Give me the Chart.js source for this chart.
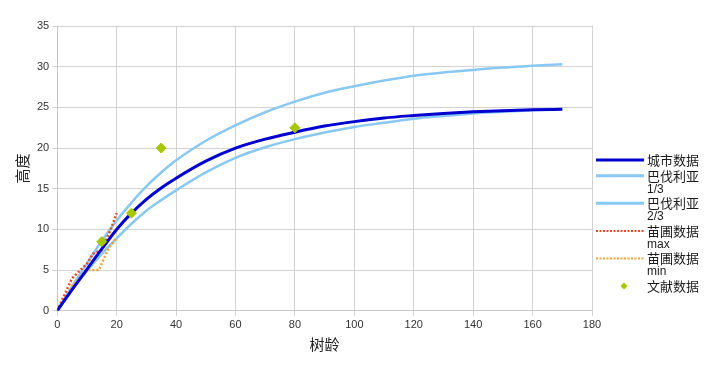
<!DOCTYPE html>
<html>
<head>
<meta charset="utf-8">
<script src="https://cdn.jsdelivr.net/npm/chart.js@4/dist/chart.umd.min.js"></script>
<style>
  html, body { margin: 0; padding: 0; background: #ffffff; }
  #wrap { position: relative; width: 718px; height: 376px; }
</style>
</head>
<body>
<div id="wrap"><canvas id="c" width="718" height="376"></canvas></div>
<script>
// ---- Data ----
const curveAges = [0, 5, 10, 15, 20, 25, 30, 35, 40, 50, 60, 70, 80, 90, 100, 110, 120, 130, 140, 150, 160, 170];
const cityHeights = [0, 2.6, 5.1, 7.6, 10.0, 12.0, 13.7, 15.1, 16.3, 18.4, 20.0, 21.1, 21.95, 22.7, 23.25, 23.7, 24.0, 24.25, 24.45, 24.6, 24.7, 24.76];
const bavaria13Heights = [0, 3.0, 5.8, 8.6, 11.1, 13.3, 15.3, 17.0, 18.5, 20.9, 22.8, 24.4, 25.7, 26.8, 27.6, 28.3, 28.9, 29.3, 29.6, 29.9, 30.1, 30.3];
const bavaria23Heights = [0, 2.6, 4.9, 7.0, 8.9, 10.7, 12.3, 13.6, 14.8, 17.0, 18.8, 20.1, 21.1, 21.9, 22.6, 23.1, 23.6, 23.95, 24.25, 24.45, 24.65, 24.76];
const nurseryMaxAges = [0, 5, 10, 12, 15, 18, 20];
const nurseryMaxHeights = [0, 4.0, 5.8, 7.0, 7.5, 10.0, 12.0];
const nurseryMinAges = [0, 5, 8, 10, 14, 17, 20];
const nurseryMinHeights = [0, 3.0, 4.3, 5.0, 5.0, 7.5, 9.0];
const literatureAges = [15, 25, 35, 80];
const literatureHeights = [8.5, 12, 20, 22.5];
const seriesNames = ['城市数据', '巴伐利亚 1/3', '巴伐利亚 2/3', '苗圃数据 max', '苗圃数据 min', '文献数据'];
const legendLines = [['城市数据'], ['巴伐利亚', '1/3'], ['巴伐利亚', '2/3'], ['苗圃数据', 'max'], ['苗圃数据', 'min'], ['文献数据']];
const xTicks = [0, 20, 40, 60, 80, 100, 120, 140, 160, 180];
const yTicks = [0, 5, 10, 15, 20, 25, 30, 35];
const xTitle = '树龄';
const yTitle = '高度';

const pts = (xs, ys) => xs.map((x, i) => ({ x: x, y: ys[i] }));

const COLORS = ['#0000d0', '#88c8f2', '#88c8f2', '#e84a26', '#f6a234', '#a6c600'];
const CJK = '"Noto Sans CJK SC", "Noto Sans", sans-serif';
const LAT = '"Liberation Sans", Arial, sans-serif';

const legendPlugin = {
  id: 'sideLegend',
  afterDraw(chart) {
    const ctx = chart.ctx;
    const ca = chart.chartArea;
    const x0 = ca.right + 4, x1 = ca.right + 52, tx = ca.right + 55;
    let y = 160;
    ctx.save();
    chart.data.datasets.forEach((ds, i) => {
      const lines = legendLines[i];
      if (ds.showLine === false) {
        ctx.fillStyle = COLORS[i];
        ctx.beginPath();
        const cx = (x0 + x1) / 2 + 4, r = 3.5;
        ctx.moveTo(cx - r, y); ctx.lineTo(cx, y - r); ctx.lineTo(cx + r, y); ctx.lineTo(cx, y + r);
        ctx.closePath(); ctx.fill();
      } else {
        ctx.strokeStyle = COLORS[i];
        ctx.lineWidth = i < 3 ? 3 : 2;
        ctx.setLineDash(i >= 3 ? [2, 1.5] : []);
        ctx.beginPath(); ctx.moveTo(x0, y); ctx.lineTo(x1, y); ctx.stroke();
        ctx.setLineDash([]);
      }
      ctx.fillStyle = '#1a1a1a';
      ctx.textBaseline = 'middle';
      ctx.textAlign = 'left';
      ctx.font = '13px ' + CJK;
      ctx.fillText(lines[0], tx, y);
      if (lines[1]) {
        ctx.font = '12px ' + LAT;
        ctx.fillText(lines[1], tx, y + 13.6);
        y += 27.6;
      } else {
        y += 15.7;
      }
    });
    ctx.restore();
  }
};

new Chart(document.getElementById('c'), {
  type: 'scatter',
  data: {
    datasets: [
      { label: seriesNames[0], data: pts(curveAges, cityHeights), showLine: true, borderColor: COLORS[0], borderWidth: 3, pointRadius: 0, cubicInterpolationMode: 'monotone', order: 1 },
      { label: seriesNames[1], data: pts(curveAges, bavaria13Heights), showLine: true, borderColor: COLORS[1], borderWidth: 2.5, pointRadius: 0, cubicInterpolationMode: 'monotone', order: 3 },
      { label: seriesNames[2], data: pts(curveAges, bavaria23Heights), showLine: true, borderColor: COLORS[2], borderWidth: 2.5, pointRadius: 0, cubicInterpolationMode: 'monotone', order: 3 },
      { label: seriesNames[3], data: pts(nurseryMaxAges, nurseryMaxHeights), showLine: true, borderColor: COLORS[3], borderWidth: 2.5, borderDash: [2, 2], pointRadius: 0, tension: 0, order: 2 },
      { label: seriesNames[4], data: pts(nurseryMinAges, nurseryMinHeights), showLine: true, borderColor: COLORS[4], borderWidth: 2.5, borderDash: [2, 2], pointRadius: 0, tension: 0, order: 2 },
      { label: seriesNames[5], data: pts(literatureAges, literatureHeights), showLine: false, backgroundColor: COLORS[5], borderColor: COLORS[5], borderWidth: 1, pointStyle: 'rectRot', pointRadius: 5, order: 0 }
    ]
  },
  options: {
    responsive: false,
    animation: false,
    layout: { padding: { left: 9, right: 126, top: 26, bottom: 19 } },
    plugins: { legend: { display: false }, tooltip: { enabled: false } },
    scales: {
      x: {
        type: 'linear', min: 0, max: 180,
        afterBuildTicks: (axis) => { axis.ticks = xTicks.map(v => ({ value: v })); },
        grid: { color: '#d2d2d2', lineWidth: 1, tickLength: 5 },
        border: { color: '#c8c8c8' },
        ticks: { color: '#333', font: { family: LAT, size: 11 }, padding: 3 },
        title: { display: true, text: xTitle, color: '#222', font: { family: CJK, size: 15 }, padding: { top: 0, bottom: 4 } }
      },
      y: {
        type: 'linear', min: 0, max: 35,
        afterBuildTicks: (axis) => { axis.ticks = yTicks.map(v => ({ value: v })); },
        grid: { color: '#d2d2d2', lineWidth: 1, tickLength: 5 },
        border: { color: '#c8c8c8' },
        ticks: { color: '#333', font: { family: LAT, size: 11 }, padding: 3 },
        title: { display: true, text: yTitle, color: '#222', font: { family: CJK, size: 15 }, padding: { top: 4, bottom: 3 } }
      }
    }
  },
  plugins: [legendPlugin]
});
</script>
</body>
</html>
